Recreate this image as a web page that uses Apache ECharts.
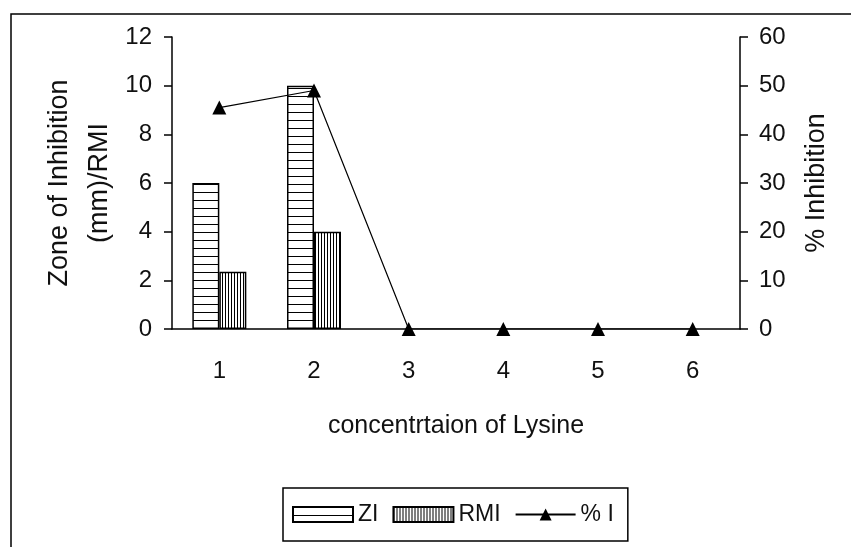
<!DOCTYPE html>
<html>
<head>
<meta charset="utf-8">
<script src="https://cdn.jsdelivr.net/npm/echarts@6/dist/echarts.min.js"></script>
<style>
    html, body { margin: 0; padding: 0; background: #fff; }
    #chart { width: 851px; height: 547px; }
</style>
</head>
<body>
<div id="chart"></div>
<script>
    // data
    const categories = ['1', '2', '3', '4', '5', '6'];
    const ziValues = [6, 10, 0, 0, 0, 0];
    const rmiValues = [2.35, 4, 0, 0, 0, 0];
    const inhibitionValues = [45.5, 49, 0, 0, 0, 0];

    // hatch patterns for the bars
    function hatch(w, h, draw) {
        const c = document.createElement('canvas');
        c.width = w; c.height = h;
        const ctx = c.getContext('2d');
        ctx.fillStyle = '#fff';
        ctx.fillRect(0, 0, w, h);
        ctx.fillStyle = '#000';
        draw(ctx);
        return c;
    }
    const hLines = hatch(8, 8, ctx => ctx.fillRect(0, 0, 8, 1));
    const vLines = hatch(3, 3, ctx => ctx.fillRect(0, 0, 1, 3));

    // zero bars have no outline in the original
    function barData(arr) {
        return arr.map(v => v === 0 ? { value: v, itemStyle: { borderWidth: 0 } } : v);
    }

    const font = 'Liberation Sans, Arial, sans-serif';
    const chart = echarts.init(document.getElementById('chart'));
    chart.setOption({
        animation: false,
        textStyle: { fontFamily: font, color: '#111' },
        grid: { left: 172, right: 111, top: 37, bottom: 218 },
        graphic: [{
            type: 'rect',
            shape: { x: 11, y: 14, width: 870, height: 560 },
            style: { fill: 'none', stroke: '#000', lineWidth: 1.5 }
        }],
        legend: {
            left: 283, top: 488,
            padding: [15, 14, 15, 9],
            borderColor: '#000', borderWidth: 1.5,
            itemWidth: 60, itemHeight: 15, itemGap: 14,
            textStyle: { fontSize: 23, fontFamily: font, color: '#111' },
            data: [
                { name: 'ZI', icon: 'rect' },
                { name: 'RMI', icon: 'rect' },
                { name: '% I' }
            ]
        },
        xAxis: {
            type: 'category',
            data: categories,
            name: 'concentrtaion of Lysine',
            nameLocation: 'middle',
            nameGap: 85,
            nameTextStyle: { fontSize: 25, color: '#111' },
            axisLine: { lineStyle: { color: '#000', width: 1.5 } },
            axisTick: { length: 8, lineStyle: { color: '#000', width: 1.5 } },
            axisLabel: { fontSize: 24, margin: 30, color: '#111' }
        },
        yAxis: [{
            type: 'value',
            min: 0, max: 12, interval: 2,
            name: 'Zone of Inhibition\n(mm)/RMI',
            nameLocation: 'middle',
            nameGap: 52,
            nameMoveOverlap: false,
            nameTextStyle: { fontSize: 27, color: '#111', lineHeight: 40 },
            splitLine: { show: false },
            axisLine: { show: true, lineStyle: { color: '#000', width: 1.5 } },
            axisTick: { show: true, length: 8, lineStyle: { color: '#000', width: 1.5 } },
            axisLabel: { fontSize: 24, margin: 20, color: '#111' }
        }, {
            type: 'value',
            min: 0, max: 60, interval: 10,
            name: '% Inhibition',
            nameLocation: 'middle',
            nameGap: 63,
            nameRotate: 90,
            nameMoveOverlap: false,
            nameTextStyle: { fontSize: 27, color: '#111' },
            splitLine: { show: false },
            axisLine: { show: true, lineStyle: { color: '#000', width: 1.5 } },
            axisTick: { show: true, length: 8, lineStyle: { color: '#000', width: 1.5 } },
            axisLabel: { fontSize: 24, margin: 19, color: '#111' }
        }],
        series: [{
            name: 'ZI',
            type: 'bar',
            data: barData(ziValues),
            barWidth: 27,
            barGap: '0%',
            itemStyle: {
                color: { image: hLines, repeat: 'repeat' },
                borderColor: '#000', borderWidth: 1.5
            }
        }, {
            name: 'RMI',
            type: 'bar',
            data: barData(rmiValues),
            barWidth: 27,
            itemStyle: {
                color: { image: vLines, repeat: 'repeat' },
                borderColor: '#000', borderWidth: 1.5
            }
        }, {
            name: '% I',
            type: 'line',
            yAxisIndex: 1,
            data: inhibitionValues,
            symbol: 'triangle',
            symbolSize: 14,
            lineStyle: { color: '#000', width: 1.2 },
            itemStyle: { color: '#000' }
        }]
    });
</script>
</body>
</html>
